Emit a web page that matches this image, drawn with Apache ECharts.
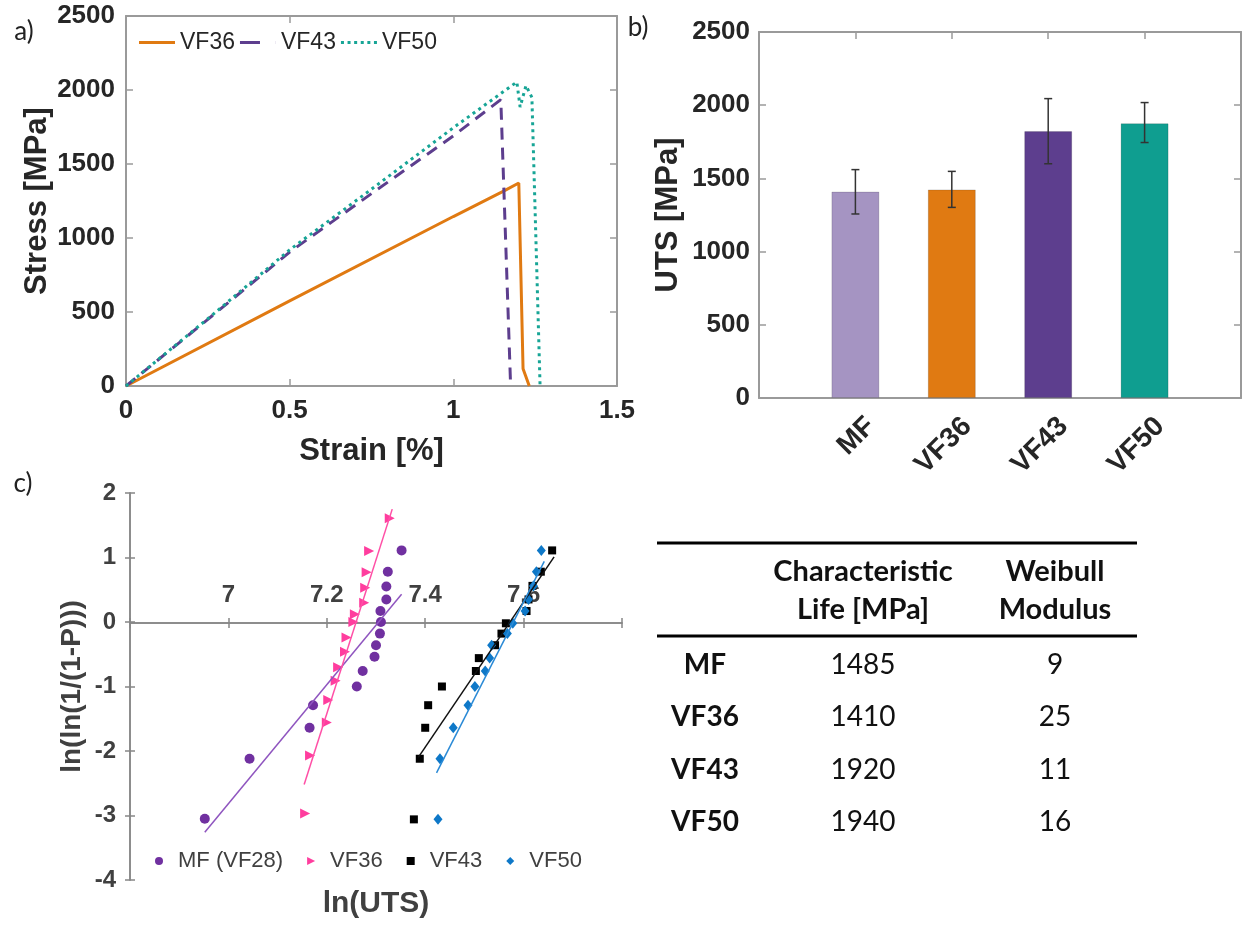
<!DOCTYPE html>
<html>
<head>
<meta charset="utf-8">
<script src="https://cdn.jsdelivr.net/npm/echarts@6/dist/echarts.min.js"></script>
<style>
  html, body { margin: 0; padding: 0; background: #fff; }
  #chart { width: 1243px; height: 928px; }
</style>
</head>
<body>
<div id="chart"></div>
<script>
// a) stress-strain curves
const vf36Strain = [0, 0.5, 1.0, 1.155, 1.2, 1.213, 1.232]
const vf36Stress = [0, 575, 1145, 1318, 1372, 117, 0]
const vf43Strain = [0, 0.25, 0.5, 0.75, 1.0, 1.145, 1.175]
const vf43Stress = [0, 450, 905, 1300, 1690, 1935, 0]
const vf50Strain = [0, 0.25, 0.5, 0.75, 1.0, 1.194, 1.204, 1.222, 1.24, 1.265]
const vf50Stress = [0, 455, 920, 1330, 1745, 2054, 1885, 2030, 1950, 0]

// b) UTS bars with error bars
const utsGroups = ['MF', 'VF36', 'VF43', 'VF50']
const utsMean = [1410, 1425, 1823, 1877]
const utsLow = [1257, 1302, 1600, 1745]
const utsHigh = [1560, 1548, 2045, 2018]

// c) Weibull plot
const mfLnUts = [6.952, 7.043, 7.165, 7.172, 7.261, 7.273, 7.297, 7.300, 7.308, 7.310, 7.309, 7.321, 7.321, 7.324, 7.352]
const mfLnLn = [-3.05, -2.12, -1.64, -1.29, -1.00, -0.76, -0.54, -0.36, -0.18, 0.00, 0.17, 0.35, 0.55, 0.78, 1.11]
const vf36LnUts = [7.156, 7.166, 7.200, 7.203, 7.218, 7.223, 7.237, 7.240, 7.254, 7.257, 7.276, 7.278, 7.281, 7.286, 7.328]
const vf36LnLn = [-2.97, -2.07, -1.56, -1.21, -0.91, -0.70, -0.46, -0.24, 0.00, 0.12, 0.30, 0.53, 0.77, 1.10, 1.61]
const vf43LnUts = [7.377, 7.389, 7.400, 7.406, 7.434, 7.503, 7.509, 7.542, 7.555, 7.564, 7.606, 7.610, 7.618, 7.635, 7.658]
const vf43LnLn = [-3.06, -2.12, -1.64, -1.29, -1.00, -0.76, -0.56, -0.36, -0.18, -0.02, 0.17, 0.35, 0.56, 0.78, 1.11]
const vf50LnUts = [7.426, 7.430, 7.457, 7.487, 7.501, 7.522, 7.531, 7.535, 7.567, 7.578, 7.603, 7.610, 7.620, 7.626, 7.636]
const vf50LnLn = [-3.06, -2.12, -1.64, -1.29, -1.00, -0.76, -0.56, -0.36, -0.18, -0.02, 0.17, 0.35, 0.56, 0.78, 1.11]
// trend line end points [x0, x1], [y0, y1]
const mfFitX = [6.952, 7.352], mfFitY = [-3.26, 0.43]
const vf36FitX = [7.154, 7.333], vf36FitY = [-2.52, 1.75]
const vf43FitX = [7.386, 7.662], vf43FitY = [-2.10, 1.01]
const vf50FitX = [7.423, 7.642], vf50FitY = [-2.34, 0.94]

// table
const tableRows = ['MF', 'VF36', 'VF43', 'VF50']
const charLife = [1485, 1410, 1920, 1940]
const weibullMod = [9, 25, 11, 16]

const colMF = '#a594c2'
const colVF36 = '#e07a12'
const colVF43 = '#5d3e8e'
const colVF50 = '#0f9e90'
const colVF50Line = '#17a596'

function pairs(xs, ys) {
  return xs.map(function(x, i) { return [x, ys[i]] })
}

const gray = '#9a9a9a'
const dark = '#262626'
const plain = function(v) { return String(v) }
const tickLabel = { color: dark, fontWeight: 'bold', fontSize: 26, fontFamily: 'Liberation Sans' }
const titleText = { color: dark, fontWeight: 'bold', fontSize: 31, fontFamily: 'Liberation Sans' }
const boxLine = { onZero: false, lineStyle: { color: gray, width: 2 } }
const inTick = { inside: true, length: 7, lineStyle: { color: gray, width: 1.5 } }
const excelGray = '#868686'
const excelLine = { onZero: false, lineStyle: { color: excelGray, width: 1.5 } }
const excelLabel = { color: '#404040', fontWeight: 'bold', fontSize: 24, fontFamily: 'Liberation Sans' }

const chart = echarts.init(document.getElementById('chart'))

chart.setOption({
  animation: false,
  textStyle: { fontFamily: 'Liberation Sans' },
  grid: [
    { left: 126, top: 16, width: 491, height: 370, outerBoundsMode: 'none' },
    { left: 759, top: 32, width: 482, height: 366, outerBoundsMode: 'none' },
    { left: 130, top: 493, width: 492, height: 387, outerBoundsMode: 'none' },
    // c) grid whose bottom edge sits on ln(ln(1/(1-P))) = 0, carries the crossing x axis
    { left: 130, top: 493, width: 492, height: 130, outerBoundsMode: 'none' }
  ],
  legend: [
    {
      data: [
        { name: 'VF36', icon: 'path://M0,0H36V3H0Z' },
        { name: 'VF43', icon: 'path://M0,0H20V3H0Z M35.9,0H36V3H35.9Z' },
        { name: 'VF50', icon: 'path://M0,0H3V3H0Z M6.6,0H9.6V3H6.6Z M13.2,0H16.2V3H13.2Z M19.8,0H22.8V3H19.8Z M26.4,0H29.4V3H26.4Z M33,0H36V3H33Z' }
      ],
      left: 139, top: 31, padding: 0,
      itemWidth: 36, itemHeight: 14, itemGap: 5,
      selectedMode: false,
      textStyle: { fontSize: 23, color: dark }
    },
    {
      data: [
        { name: 'c-MF (VF28)', icon: 'circle' },
        { name: 'c-VF36', icon: 'path://M0,0L10,5L0,10Z' },
        { name: 'c-VF43', icon: 'rect' },
        { name: 'c-VF50', icon: 'diamond' }
      ],
      formatter: function(name) { return name.replace('c-', '') },
      left: 155, top: 850, padding: 0,
      itemWidth: 8, itemHeight: 8, itemGap: 24,
      selectedMode: false,
      textStyle: { fontSize: 22, color: '#404040', padding: [0, 0, 0, 10] }
    }
  ],
  xAxis: [
    {
      gridIndex: 0, type: 'value', position: 'bottom', min: 0, max: 1.5, interval: 0.5,
      axisLine: boxLine, axisTick: inTick, splitLine: { show: false },
      axisLabel: Object.assign({ margin: 12, showMinLabel: true, showMaxLabel: true, formatter: plain }, tickLabel),
      name: 'Strain [%]', nameLocation: 'middle', nameGap: 50, nameTextStyle: titleText
    },
    {
      gridIndex: 0, type: 'value', position: 'top', min: 0, max: 1.5, interval: 0.5,
      axisLine: boxLine, axisTick: inTick, splitLine: { show: false }, axisLabel: { show: false }
    },
    {
      gridIndex: 1, type: 'value', position: 'bottom', min: 0, max: 5, interval: 1,
      axisLine: boxLine, axisTick: inTick, splitLine: { show: false }, axisLabel: { show: false }
    },
    {
      gridIndex: 1, type: 'value', position: 'top', min: 0, max: 5, interval: 1,
      axisLine: boxLine, axisTick: inTick, splitLine: { show: false }, axisLabel: { show: false }
    },
    // c) data axis (hidden)
    { gridIndex: 2, type: 'value', position: 'bottom', min: 6.8, max: 7.8, show: false },
    // c) visible axis on y = 0, labels above
    {
      gridIndex: 3, type: 'value', position: 'bottom', min: 6.8, max: 7.8, interval: 0.2,
      axisLine: excelLine,
      axisTick: { inside: true, length: 5, lineStyle: { color: excelGray, width: 1.5 } },
      splitLine: { show: false },
      axisLabel: Object.assign({
        inside: true, margin: 16, showMinLabel: true, showMaxLabel: true,
        formatter: function(v) { return (v > 6.9 && v < 7.7) ? String(+v.toFixed(1)) : '' }
      }, excelLabel),
      name: 'ln(UTS)', nameLocation: 'middle', nameGap: 266,
      nameTextStyle: { color: '#404040', fontWeight: 'bold', fontSize: 30 }
    },
    {
      gridIndex: 3, type: 'value', position: 'bottom', min: 6.8, max: 7.8, interval: 0.2,
      axisLine: excelLine,
      axisTick: { inside: false, length: 5, lineStyle: { color: excelGray, width: 1.5 } },
      splitLine: { show: false }, axisLabel: { show: false }
    },
    // b) category labels, scale nudged so the rotated text ends just right of each bar
    {
      gridIndex: 1, type: 'value', position: 'bottom', min: -0.16, max: 4.84,
      axisLine: { show: false, onZero: false }, axisTick: { show: false }, splitLine: { show: false },
      axisLabel: {
        customValues: [1, 2, 3, 4],
        rotate: 45, margin: 24, fontSize: 28, color: dark, fontWeight: 'bold',
        formatter: function(v) { return utsGroups[Math.round(v) - 1] || '' }
      }
    }
  ],
  yAxis: [
    {
      gridIndex: 0, type: 'value', position: 'left', min: 0, max: 2500, interval: 500,
      axisLine: boxLine, axisTick: inTick, splitLine: { show: false },
      axisLabel: Object.assign({ margin: 11, formatter: plain }, tickLabel),
      name: 'Stress [MPa]', nameLocation: 'middle', nameGap: 72, nameTextStyle: titleText
    },
    {
      gridIndex: 0, type: 'value', position: 'right', min: 0, max: 2500, interval: 500,
      axisLine: boxLine, axisTick: inTick, splitLine: { show: false }, axisLabel: { show: false }
    },
    {
      gridIndex: 1, type: 'value', position: 'left', min: 0, max: 2500, interval: 500,
      axisLine: boxLine, axisTick: inTick, splitLine: { show: false },
      axisLabel: Object.assign({ margin: 9, formatter: plain }, tickLabel),
      name: 'UTS [MPa]', nameLocation: 'middle', nameGap: 75, nameTextStyle: titleText
    },
    {
      gridIndex: 1, type: 'value', position: 'right', min: 0, max: 2500, interval: 500,
      axisLine: boxLine, axisTick: inTick, splitLine: { show: false }, axisLabel: { show: false }
    },
    {
      gridIndex: 2, type: 'value', position: 'left', min: -4, max: 2, interval: 1,
      axisLine: excelLine,
      axisTick: { inside: false, length: 5, lineStyle: { color: excelGray, width: 1.5 } },
      splitLine: { show: false },
      axisLabel: Object.assign({ margin: 14, formatter: plain }, excelLabel),
      name: 'ln(ln(1/(1-P)))', nameLocation: 'middle', nameGap: 44,
      nameTextStyle: { color: '#404040', fontWeight: 'bold', fontSize: 28 }
    },
    {
      gridIndex: 2, type: 'value', position: 'left', min: -4, max: 2, interval: 1,
      axisLine: excelLine,
      axisTick: { inside: true, length: 5, lineStyle: { color: excelGray, width: 1.5 } },
      splitLine: { show: false }, axisLabel: { show: false }
    },
    { gridIndex: 3, type: 'value', position: 'left', min: 0, max: 2, show: false }
  ],
  series: [
    // a)
    {
      name: 'VF36', type: 'line', xAxisIndex: 0, yAxisIndex: 0,
      data: pairs(vf36Strain, vf36Stress), symbol: 'none',
      lineStyle: { color: colVF36, width: 3 }, itemStyle: { color: colVF36 }
    },
    {
      name: 'VF43', type: 'line', xAxisIndex: 0, yAxisIndex: 0,
      data: pairs(vf43Strain, vf43Stress), symbol: 'none',
      lineStyle: { color: colVF43, width: 3, type: [12, 8] }, itemStyle: { color: colVF43 }
    },
    {
      name: 'VF50', type: 'line', xAxisIndex: 0, yAxisIndex: 0,
      data: pairs(vf50Strain, vf50Stress), symbol: 'none',
      lineStyle: { color: colVF50Line, width: 3, type: [3, 4] }, itemStyle: { color: colVF50Line }
    },
    // b)
    {
      name: 'UTS', type: 'bar', xAxisIndex: 2, yAxisIndex: 2, barWidth: 48,
      data: utsGroups.map(function(g, i) {
        return {
          value: [i + 1, utsMean[i]],
          itemStyle: { color: [colMF, colVF36, colVF43, colVF50][i], borderColor: 'rgba(0,0,0,0.15)', borderWidth: 1 }
        }
      })
    },
    {
      name: 'UTS error', type: 'custom', xAxisIndex: 2, yAxisIndex: 2, z: 10,
      encode: { x: 0, y: [1, 2] },
      data: utsGroups.map(function(g, i) { return [i + 1, utsLow[i], utsHigh[i]] }),
      renderItem: function(params, api) {
        const x = api.value(0)
        const top = api.coord([x, api.value(2)])
        const bot = api.coord([x, api.value(1)])
        const w = 4
        const st = { stroke: '#333', lineWidth: 1.5 }
        return {
          type: 'group',
          children: [
            { type: 'line', shape: { x1: top[0], y1: top[1], x2: bot[0], y2: bot[1] }, style: st },
            { type: 'line', shape: { x1: top[0] - w, y1: top[1], x2: top[0] + w, y2: top[1] }, style: st },
            { type: 'line', shape: { x1: bot[0] - w, y1: bot[1], x2: bot[0] + w, y2: bot[1] }, style: st }
          ]
        }
      }
    },
    // c) trend lines
    {
      type: 'line', xAxisIndex: 4, yAxisIndex: 4, symbol: 'none',
      data: pairs(mfFitX, mfFitY), lineStyle: { color: '#8f55bf', width: 1.5 }
    },
    {
      type: 'line', xAxisIndex: 4, yAxisIndex: 4, symbol: 'none',
      data: pairs(vf36FitX, vf36FitY), lineStyle: { color: '#ff4fa6', width: 1.5 }
    },
    {
      type: 'line', xAxisIndex: 4, yAxisIndex: 4, symbol: 'none',
      data: pairs(vf43FitX, vf43FitY), lineStyle: { color: '#111', width: 1.5 }
    },
    {
      type: 'line', xAxisIndex: 4, yAxisIndex: 4, symbol: 'none',
      data: pairs(vf50FitX, vf50FitY), lineStyle: { color: '#2a8ad6', width: 1.5 }
    },
    // c) points
    {
      name: 'c-MF (VF28)', type: 'scatter', xAxisIndex: 4, yAxisIndex: 4,
      symbol: 'circle', symbolSize: 10, itemStyle: { color: '#7030a0', opacity: 1 },
      data: pairs(mfLnUts, mfLnLn)
    },
    {
      name: 'c-VF36', type: 'scatter', xAxisIndex: 4, yAxisIndex: 4,
      symbol: 'triangle', symbolRotate: -90, symbolSize: 10, itemStyle: { color: '#ff3d9e', opacity: 1 },
      data: pairs(vf36LnUts, vf36LnLn)
    },
    {
      name: 'c-VF43', type: 'scatter', xAxisIndex: 4, yAxisIndex: 4,
      symbol: 'rect', symbolSize: 8, itemStyle: { color: '#000', opacity: 1 },
      data: pairs(vf43LnUts, vf43LnLn)
    },
    {
      name: 'c-VF50', type: 'scatter', xAxisIndex: 4, yAxisIndex: 4,
      symbol: 'diamond', symbolSize: [9, 11], itemStyle: { color: '#0e78c8', opacity: 1 },
      data: pairs(vf50LnUts, vf50LnLn)
    }
  ],
  graphic: buildGraphics()
})

function buildGraphics() {
  const els = []
  const label = function(t, x, y) {
    els.push({ type: 'text', x: x, y: y, style: { text: t, font: '26px Lato', fill: '#222', textAlign: 'center', textVerticalAlign: 'middle' } })
  }
  label('a)', 24, 32)
  label('b)', 638, 28)
  label('c)', 23, 484)

  const txt = function(t, x, y, font) {
    els.push({
      type: 'text', x: x, y: y,
      style: { text: t, font: font, fill: '#111', textAlign: 'center', textVerticalAlign: 'middle' }
    })
  }
  const rule = function(y) {
    els.push({ type: 'line', shape: { x1: 657, y1: y, x2: 1137, y2: y }, style: { stroke: '#000', lineWidth: 3 } })
  }
  const head = 'bold 29px Lato'
  const bold = 'bold 28px Lato'
  const reg = '28px Lato'
  const colX = [705, 863, 1055]
  rule(543)
  rule(636)
  txt('Characteristic', colX[1], 572, head)
  txt('Life [MPa]', colX[1], 610, head)
  txt('Weibull', colX[2], 572, head)
  txt('Modulus', colX[2], 610, head)
  const rowY = [665, 717, 770, 822]
  tableRows.forEach(function(r, i) {
    txt(r, colX[0], rowY[i], bold)
    txt(String(charLife[i]), colX[1], rowY[i], reg)
    txt(String(weibullMod[i]), colX[2], rowY[i], reg)
  })
  return els
}
</script>
</body>
</html>
